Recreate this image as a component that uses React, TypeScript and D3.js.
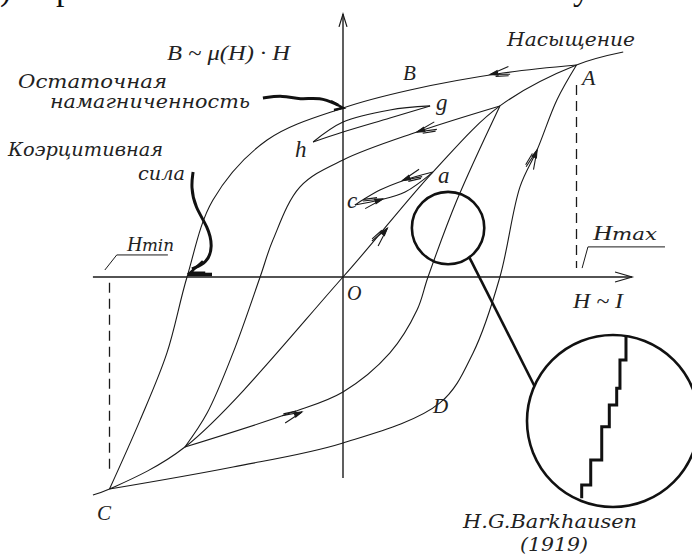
import React from 'react';
import * as d3 from 'd3';

const W = 692;
const HGT = 559;

// field H (Hmax = 1) and induction B (saturation = 1)
const upperH = [1, 0.685, 0.287, 0, -0.325, -0.557, -0.668, -0.754, -0.869, -1];
const upperB = [1, 0.962, 0.882, 0.797, 0.646, 0.363, 0, -0.358, -0.675, -1];
const lowerH = [-1, -0.471, 0, 0.415, 0.557, 0.672, 0.758, 0.831, 0.916, 1];
const lowerB = [-1, -0.896, -0.783, -0.594, -0.358, 0, 0.425, 0.599, 0.835, 1];
const innerUpH = [0.672, 0.317, 0, -0.184, -0.3, -0.355, -0.471, -0.582, -0.677];
const innerUpB = [0.807, 0.684, 0.552, 0.425, 0.175, 0, -0.358, -0.642, -0.802];
const innerLoH = [-0.677, -0.227, 0, 0.201, 0.317, 0.364, 0.488, 0.672];
const innerLoB = [-0.802, -0.642, -0.542, -0.358, -0.156, 0, 0.363, 0.807];
const initH = [-1.071, -1, -0.677, 0, 0.385, 0.672, 1, 1.2];
const initB = [-1.028, -1, -0.802, 0, 0.495, 0.807, 1, 1.061];

// minor loops g-h and a-c
const ghUpH = [0.373, 0.201, 0, -0.128];
const ghUpB = [0.807, 0.788, 0.731, 0.637];
const ghLoH = [-0.128, 0, 0.201, 0.373];
const ghLoB = [0.637, 0.684, 0.75, 0.807];
const acUpH = [0.385, 0.266, 0.158, 0.051];
const acUpB = [0.495, 0.458, 0.41, 0.34];
const acLoH = [0.051, 0.158, 0.266, 0.385];
const acLoB = [0.34, 0.363, 0.401, 0.495];

// direction arrows: tip and a point it points to
const arrowAtH = [0.63, 0.317, 0.255, 0.17, 0.19, -0.176, 0.831];
const arrowAtB = [0.955, 0.684, 0.455, 0.368, 0.23, -0.637, 0.599];
const arrowToH = [0.4, 0.2, 0.158, 0.266, 0.385, 0, 0.916];
const arrowToB = [0.9, 0.64, 0.41, 0.401, 0.495, -0.56, 0.835];

// pointers to remanence and coercive force
const remH = [-0.343, -0.257, -0.184, -0.099, -0.021];
const remB = [0.844, 0.858, 0.835, 0.849, 0.811];
const coerH = [-0.642, -0.651, -0.634, -0.578, -0.557, -0.582, -0.647];
const coerB = [0.495, 0.425, 0.33, 0.236, 0.142, 0.066, 0.038];

// magnified Barkhausen jumps (inset units, circle radius = 1)
const stairH = [-0.364, -0.259, -0.131, -0.043, 0.043, 0.081, 0.151, 0.151];
const stairB = [-0.899, -0.744, -0.453, -0.066, 0.186, 0.38, 0.709, 1.0];
const lens = { h: 0.45, b: 0.231, r: 0.155 };

const zip = (a: number[], b: number[]) => a.map((v, i) => [v, b[i]] as [number, number]);

const x = d3.scaleLinear().domain([-1, 1]).range([109.5, 576.5]);
const y = d3.scaleLinear().domain([-1, 1]).range([489, 65]);
const zx = d3.scaleLinear().domain([-1, 1]).range([527, 699]);
const zy = d3.scaleLinear().domain([-1, 1]).range([507, 335]);

const curve = d3.line<[number, number]>()
  .x(d => x(d[0]))
  .y(d => y(d[1]))
  .curve(d3.curveCatmullRom.alpha(0.5));

const pointer = d3.line<[number, number]>()
  .x(d => x(d[0]))
  .y(d => y(d[1]))
  .curve(d3.curveBasis);

const stairs = d3.line<[number, number]>()
  .x(d => zx(d[0]))
  .y(d => zy(d[1]))
  .curve(d3.curveStepBefore);

const ink = '#1a1a1a';
const cyr = { fontFamily: 'DejaVu Serif', fontStyle: 'italic', fill: '#222' } as const;
const lat = { fontFamily: 'Liberation Serif', fontStyle: 'italic', fill: '#222' } as const;

// long narrow double-line arrowhead, like the hand-drawn ones
function Arrow({ at, to }: any) {
  const tx = x(at[0]), ty = y(at[1]);
  const ang = Math.atan2(y(to[1]) - ty, x(to[0]) - tx);
  const back = ang + Math.PI;
  const p = (a: number, l: number) => [tx + Math.cos(a) * l, ty + Math.sin(a) * l];
  const b1 = p(back + 0.2, 20);
  const b2 = p(back - 0.2, 20);
  const n = [Math.cos(back + Math.PI / 2) * 3, Math.sin(back + Math.PI / 2) * 3];
  const s = p(back, 5);
  const e = p(back + 0.12, 18);
  const h1 = p(back + 0.3, 8);
  const h2 = p(back - 0.3, 8);
  return (
    <g stroke={ink} strokeWidth={1.1}>
      <path d={`M${b1[0]},${b1[1]}L${tx},${ty}L${b2[0]},${b2[1]}`} fill="none" />
      <path d={`M${s[0] + n[0]},${s[1] + n[1]}L${e[0] + n[0]},${e[1] + n[1]}`} fill="none" />
      <path d={`M${tx},${ty}L${h1[0]},${h1[1]}L${h2[0]},${h2[1]}Z`} fill={ink} />
    </g>
  );
}

export default function App() {
  const lensX = x(lens.h), lensY = y(lens.b), lensR = x(lens.r) - x(0);
  const bigX = zx(0), bigY = zy(0), bigR = zx(1) - zx(0);
  const a1 = (54 * Math.PI) / 180, a2 = (204 * Math.PI) / 180;
  const conn = [
    [lensX + Math.cos(a1) * lensR, lensY + Math.sin(a1) * lensR],
    [bigX + Math.cos(a2) * bigR, bigY + Math.sin(a2) * bigR],
  ];
  const remEnd = [x(0), y(0.797)];

  return (
    <svg width={W} height={HGT} style={{ position: 'absolute', left: 0, top: 0, background: '#fff' }}>
      {/* fragments of the page text above the figure */}
      <g fontFamily="Liberation Serif" fontSize={34} fill="#111">
        <text x={0} y={0}>)</text>
        <text x={56} y={0}>р</text>
        <text x={573} y={0}>у</text>
      </g>

      {/* axes */}
      <line x1={x(0)} y1={y(-0.948)} x2={x(0)} y2={y(1.24)} stroke={ink} strokeWidth={1.4} />
      <path d={`M${x(0) - 4},${y(1.18)}L${x(0)},${y(1.24)}L${x(0) + 4},${y(1.18)}`} fill="none" stroke={ink} strokeWidth={1.2} />
      <line x1={x(-1.071)} y1={y(0)} x2={x(1.238)} y2={y(0)} stroke={ink} strokeWidth={1.4} />
      <path d={`M${x(1.165)},${y(0) - 5}L${x(1.238)},${y(0)}L${x(1.165)},${y(0) + 5}`} fill="none" stroke={ink} strokeWidth={1.2} />

      {/* Hmin / Hmax */}
      <line x1={x(-1)} y1={y(-0.027)} x2={x(-1)} y2={y(-0.93)} stroke={ink} strokeWidth={1.3} strokeDasharray="10,6" />
      <line x1={x(1)} y1={y(0.906)} x2={x(1)} y2={y(0.042)} stroke={ink} strokeWidth={1.3} strokeDasharray="10,6" />
      <path d={`M${x(-1.02)},${y(0.033)}L${x(-0.969)},${y(0.104)}L${x(-0.75)},${y(0.104)}`} fill="none" stroke={ink} strokeWidth={1} />
      <path d={`M${x(1.024)},${y(0.042)}L${x(1.049)},${y(0.142)}L${x(1.379)},${y(0.142)}`} fill="none" stroke={ink} strokeWidth={1} />

      {/* hysteresis curves */}
      <g fill="none" stroke={ink} strokeWidth={1.1}>
        <path d={curve(zip(upperH, upperB)) || ''} />
        <path d={curve(zip(lowerH, lowerB)) || ''} />
        <path d={curve(zip(innerUpH, innerUpB)) || ''} />
        <path d={curve(zip(innerLoH, innerLoB)) || ''} />
        <path d={curve(zip(initH, initB)) || ''} />
        <path d={curve(zip(ghUpH, ghUpB)) || ''} />
        <path d={curve(zip(ghLoH, ghLoB)) || ''} />
        <path d={curve(zip(acUpH, acUpB)) || ''} />
        <path d={curve(zip(acLoH, acLoB)) || ''} />
      </g>
      {arrowAtH.map((h, i) => (
        <Arrow key={i} at={[h, arrowAtB[i]]} to={[arrowToH[i], arrowToB[i]]} />
      ))}

      {/* remanence pointer */}
      <path d={pointer(zip(remH, remB)) || ''} fill="none" stroke="#111" strokeWidth={3} />
      <path d={`M${remEnd[0] - 12},${remEnd[1] - 7}L${remEnd[0]},${remEnd[1]}L${remEnd[0] - 9},${remEnd[1] + 2}`}
        fill="none" stroke="#111" strokeWidth={2.5} />

      {/* coercive force pointer */}
      <path d={pointer(zip(coerH, coerB)) || ''} fill="none" stroke="#111" strokeWidth={3} />
      <path d={`M${x(-0.6)},${y(0.075)}L${x(-0.655)},${y(0.02)}L${x(-0.59)},${y(0.02)}`}
        fill="none" stroke="#111" strokeWidth={2.5} />
      <line x1={x(-0.664)} y1={y(0.012)} x2={x(-0.561)} y2={y(0.012)} stroke="#111" strokeWidth={3.5} />

      {/* Barkhausen magnifier */}
      <circle cx={lensX} cy={lensY} r={lensR} fill="none" stroke="#111" strokeWidth={2.6} />
      <line x1={conn[0][0]} y1={conn[0][1]} x2={conn[1][0]} y2={conn[1][1]} stroke="#111" strokeWidth={2.6} />
      <circle cx={bigX} cy={bigY} r={bigR} fill="none" stroke="#111" strokeWidth={2.6} />
      <path d={stairs(zip(stairH, stairB)) || ''} fill="none" stroke="#111" strokeWidth={3} />

      {/* labels */}
      <text x={167} y={60} fontSize={21} textLength={123} lengthAdjust="spacingAndGlyphs" style={lat}>B ~ μ(H) · H</text>
      <text x={18} y={88} fontSize={18} textLength={149} lengthAdjust="spacingAndGlyphs" style={cyr}>Остаточная</text>
      <text x={50} y={108} fontSize={18} textLength={200} lengthAdjust="spacingAndGlyphs" style={cyr}>намагниченность</text>
      <text x={8} y={156} fontSize={19} textLength={155} lengthAdjust="spacingAndGlyphs" style={cyr}>Коэрцитивная</text>
      <text x={138} y={180} fontSize={19} textLength={47} lengthAdjust="spacingAndGlyphs" style={cyr}>сила</text>
      <text x={507} y={46} fontSize={19} textLength={128} lengthAdjust="spacingAndGlyphs" style={cyr}>Насыщение</text>
      <text x={127} y={251} fontSize={21} textLength={47} lengthAdjust="spacingAndGlyphs" style={lat}>H<tspan style={cyr} fontSize={17}>min</tspan></text>
      <text x={593} y={240} fontSize={21} textLength={64} lengthAdjust="spacingAndGlyphs" style={lat}>H<tspan style={cyr} fontSize={17}>max</tspan></text>
      <text x={582} y={85} fontSize={22} style={lat}>A</text>
      <text x={403} y={80} fontSize={21} style={lat}>B</text>
      <text x={436} y={110} fontSize={23} style={lat}>g</text>
      <text x={295} y={157} fontSize={23} style={lat}>h</text>
      <text x={438} y={183} fontSize={23} style={lat}>a</text>
      <text x={347} y={208} fontSize={23} style={lat}>c</text>
      <text x={347} y={300} fontSize={20} style={lat}>O</text>
      <text x={573} y={308} fontSize={20} textLength={50} lengthAdjust="spacingAndGlyphs" style={lat}>H ~ I</text>
      <text x={433} y={413} fontSize={21} style={lat}>D</text>
      <text x={97} y={520} fontSize={21} style={lat}>C</text>
      <text x={463} y={528} fontSize={19} textLength={174} lengthAdjust="spacingAndGlyphs" style={cyr}>H.G.Barkhausen</text>
      <text x={520} y={551} fontSize={19} textLength={68} lengthAdjust="spacingAndGlyphs" style={cyr}>(1919)</text>
    </svg>
  );
}
